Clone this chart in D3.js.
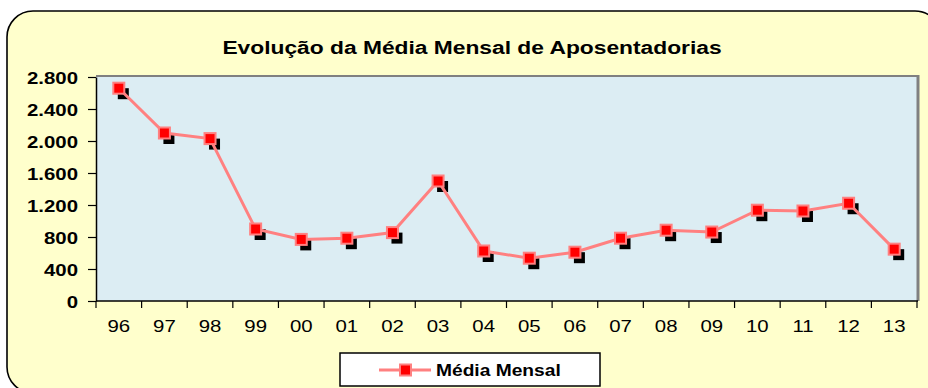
<!DOCTYPE html>
<html>
<head>
<meta charset="utf-8">
<script src="https://cdn.jsdelivr.net/npm/d3@7"></script>
<style>
  html, body { margin: 0; padding: 0; background: #fff; }
  svg { display: block; font-family: "Liberation Sans", Arial, sans-serif; }
</style>
</head>
<body>
<svg id="chart" width="928" height="388"></svg>
<script>
// Ano (dois dígitos) e média mensal de aposentadorias
const years = ["96","97","98","99","00","01","02","03","04","05","06","07","08","09","10","11","12","13"];
const mediaMensal = [2660, 2100, 2030, 900, 770, 785, 855, 1500, 625, 535, 610, 785, 885, 862, 1135, 1125, 1222, 648];
const yTicks = [0, 400, 800, 1200, 1600, 2000, 2400, 2800];
const title = "Evolução da Média Mensal de Aposentadorias";
const seriesName = "Média Mensal";

const svg = d3.select("#chart");
const fmt = d3.formatLocale({ decimal: ",", thousands: ".", grouping: [3], currency: ["R$", ""] }).format(",d");

// texto com largura levemente expandida
const STRETCH = 1.2;
function label(parent, x, y, txt, opts) {
  return parent.append("text")
    .attr("transform", `translate(${x},${y}) scale(${STRETCH},1)`)
    .attr("text-anchor", opts.anchor || "start")
    .attr("dy", opts.dy || null)
    .style("font-size", opts.size + "px")
    .style("font-weight", opts.bold ? "bold" : "normal")
    .attr("fill", "#000")
    .text(txt);
}

// Painel externo com cantos arredondados (estende-se além da borda direita e inferior)
svg.append("rect")
  .attr("x", 7).attr("y", 11).attr("width", 934).attr("height", 382)
  .attr("rx", 26).attr("ry", 26)
  .attr("fill", "#FFFFCC").attr("stroke", "#000").attr("stroke-width", 1.6);

const plot = { left: 96, top: 77, right: 917, bottom: 301 };

const x = d3.scaleBand().domain(years).range([plot.left, plot.right]).padding(0);
const y = d3.scaleLinear().domain([0, 2800]).range([plot.bottom, plot.top]);

// Área de plotagem
svg.append("rect")
  .attr("x", plot.left).attr("y", plot.top - 1)
  .attr("width", plot.right - plot.left).attr("height", plot.bottom - plot.top + 1)
  .attr("fill", "#DCEDF3");
// bordas superior e direita em cinza
svg.append("line").attr("x1", plot.left).attr("x2", plot.right + 1)
  .attr("y1", plot.top - 1).attr("y2", plot.top - 1)
  .attr("stroke", "#808080").attr("stroke-width", 2);
svg.append("line").attr("x1", plot.right + 1).attr("x2", plot.right + 1)
  .attr("y1", plot.top - 2).attr("y2", plot.bottom)
  .attr("stroke", "#808080").attr("stroke-width", 3);

// Eixo Y
const yAxis = svg.append("g")
  .attr("transform", `translate(${plot.left},0)`)
  .call(d3.axisLeft(y).tickValues(yTicks).tickFormat("").tickSize(8).tickSizeOuter(0));
yAxis.select(".domain").attr("stroke", "#000").attr("stroke-width", 1.5);
yAxis.selectAll(".tick line").attr("stroke", "#000").attr("stroke-width", 1.2);
yAxis.selectAll(".tick").each(function (d) {
  label(d3.select(this), -18, 0, fmt(d), { anchor: "end", dy: "0.36em", size: 17, bold: true });
});

// Eixo X com marcas entre as categorias
const xAxisG = svg.append("g").attr("transform", `translate(0,${plot.bottom})`);
xAxisG.append("line")
  .attr("x1", plot.left).attr("x2", plot.right + 1)
  .attr("y1", 0).attr("y2", 0)
  .attr("stroke", "#000").attr("stroke-width", 1.5);
const boundaries = years.map(d => x(d)).concat([x(years[years.length - 1]) + x.bandwidth()]);
xAxisG.selectAll("line.tk").data(boundaries).enter().append("line")
  .attr("class", "tk")
  .attr("x1", d => d).attr("x2", d => d)
  .attr("y1", 0).attr("y2", 7)
  .attr("stroke", "#000").attr("stroke-width", 1.2);
years.forEach(d => {
  label(xAxisG, x(d) + x.bandwidth() / 2, 31, d, { anchor: "middle", size: 17, bold: false });
});

// Título
label(svg, 472, 54, title, { anchor: "middle", size: 19, bold: true });

const cx = d => x(d) + x.bandwidth() / 2;
const pts = years.map((d, i) => ({ year: d, v: mediaMensal[i] }));

// Sombras dos marcadores
svg.append("g").selectAll("rect").data(pts).enter().append("rect")
  .attr("x", d => cx(d.year) - 5 + 4)
  .attr("y", d => y(d.v) - 5 + 5)
  .attr("width", 11).attr("height", 11)
  .attr("fill", "#000");

// Linha da série
const line = d3.line().x(d => cx(d.year)).y(d => y(d.v));
svg.append("path").datum(pts)
  .attr("d", line)
  .attr("fill", "none")
  .attr("stroke", "#FF8080").attr("stroke-width", 3);

// Marcadores
svg.append("g").selectAll("rect").data(pts).enter().append("rect")
  .attr("x", d => cx(d.year) - 5.5)
  .attr("y", d => y(d.v) - 5.5)
  .attr("width", 11).attr("height", 11)
  .attr("fill", "#FF0000").attr("stroke", "#FF8080").attr("stroke-width", 2);

// Legenda
const lg = svg.append("g");
lg.append("rect")
  .attr("x", 340).attr("y", 353).attr("width", 260).attr("height", 33)
  .attr("fill", "#fff").attr("stroke", "#000").attr("stroke-width", 1.5);
lg.append("line")
  .attr("x1", 379).attr("x2", 431).attr("y1", 370).attr("y2", 370)
  .attr("stroke", "#FF8080").attr("stroke-width", 3);
lg.append("rect")
  .attr("x", 400).attr("y", 364.5).attr("width", 11).attr("height", 11)
  .attr("fill", "#FF0000").attr("stroke", "#FF8080").attr("stroke-width", 2);
label(lg, 436, 376, seriesName, { anchor: "start", size: 16, bold: true });
</script>
</body>
</html>
